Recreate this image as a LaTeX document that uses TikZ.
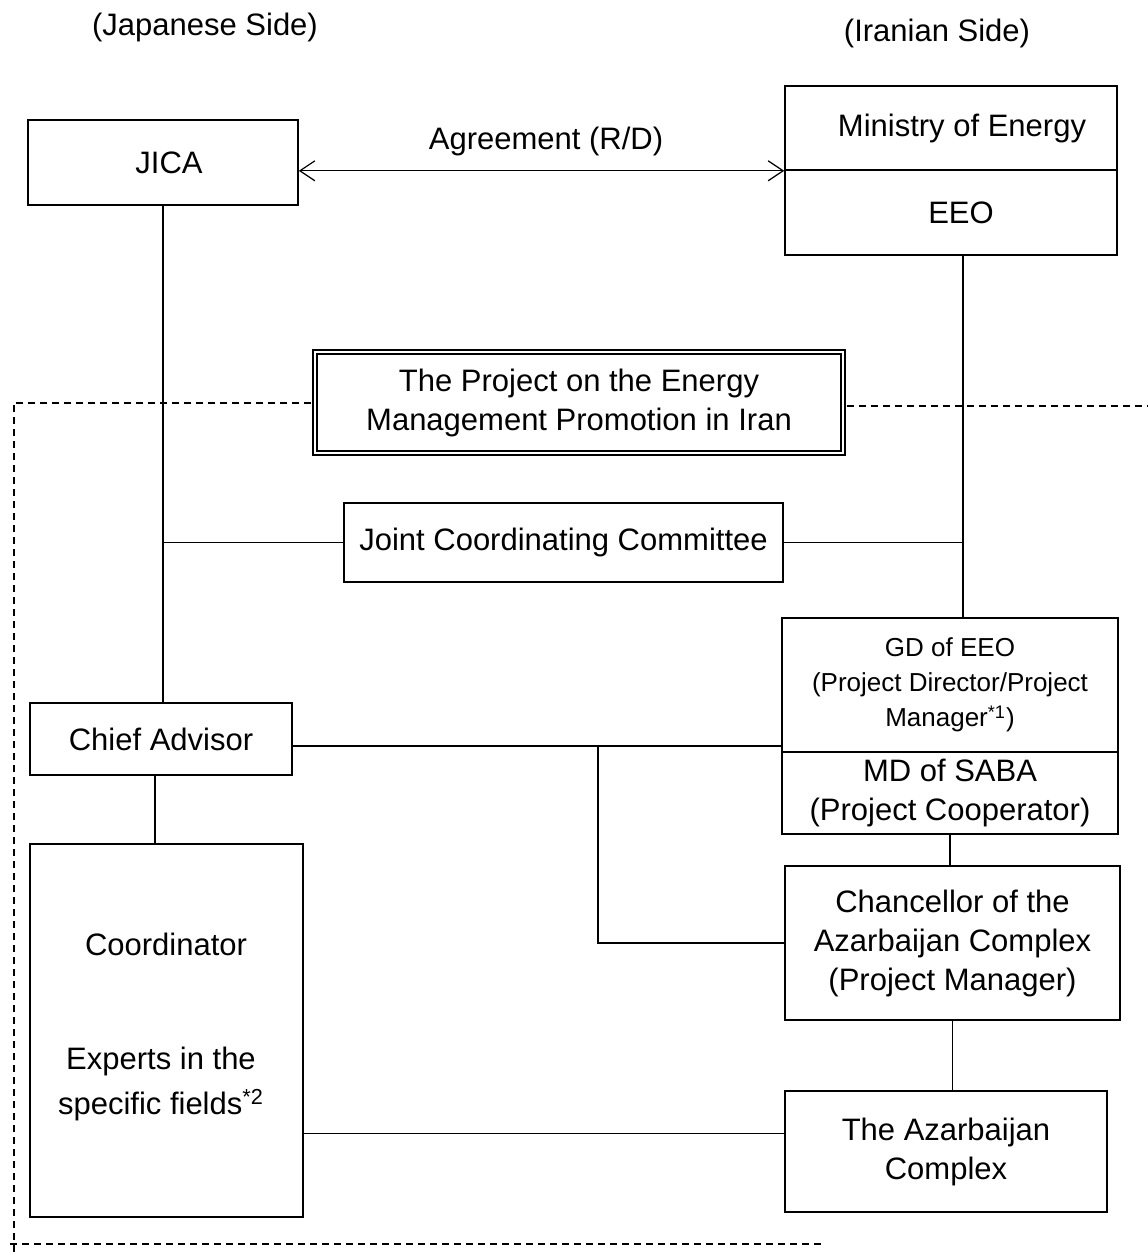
\documentclass[tikz,border=0pt]{standalone}
\usepackage{fontspec}
\setmainfont{Liberation Sans}
\usetikzlibrary{arrows.meta,calc}
\begin{document}
\begin{tikzpicture}[x=0.5pt,y=-0.5pt,
  font=\fontsize{15.5}{19.5}\selectfont,
  line width=0.8pt,
  bx/.style n args={2}{draw, minimum width={#1*0.5pt}, minimum height={#2*0.5pt}, inner sep=0pt, align=center},
  lbl/.style={inner sep=0pt, align=center},
  frame/.style={dash pattern=on 3.5pt off 2.5pt, line width=1pt},
  small/.style={font=\fontsize{13}{17.5}\selectfont},
  tip/.style={{Straight Barb[length=7.5pt,width=10pt]}-{Straight Barb[length=7.5pt,width=10pt]}, line width=0.6pt}]
\useasboundingbox (0,0) rectangle (1147,1252);
% side labels
\node[lbl] (jside) at (205,27) {(Japanese Side)};
\node[lbl] (iside) at (937,33) {(Iranian Side)};
% boxes
\node[bx={270}{85}] (jica) at (163,162.5) {\hspace*{6pt}JICA};
\node[bx={332}{84}] (moe) at (951,128) {\hspace*{11pt}Ministry of Energy};
\node[bx={332}{85}] (eeo) at (951,212.5) {\hspace*{10pt}EEO};
\node[bx={528}{101}, line width=0.7pt, double, double distance=1.4pt] (proj) at (579,402.5) {The Project on the Energy\\Management Promotion in Iran};
\node[bx={439}{79}] (jcc) at (563.5,542.5) {Joint Coordinating Committee};
\node[bx={336}{134}, small] (gd) at (950,685) {GD of EEO\\(Project Director/Project\\Manager\textsuperscript{*1})};
\node[bx={336}{82}] (md) at (950,793) {MD of SABA\\(Project Cooperator)};
\node[bx={262}{72}] (chief) at (161,739) {Chief Advisor};
\node[bx={273}{373}] (coord) at (166.5,1030.5) {};
\node[lbl] (coordt) at (166,944) {Coordinator};
\node[lbl, font=\fontsize{15.5}{22.5}\selectfont] (expt) at (161,1084) {Experts in the\\specific fields\textsuperscript{*2}};
\node[bx={335}{154}] (chanc) at (952.5,943) {Chancellor of the\\Azarbaijan Complex\\(Project Manager)};
\node[bx={322}{121}] (azc) at (946,1151.5) {The Azarbaijan\\Complex};
% agreement arrow
\node[lbl] (agr) at (546,141) {Agreement (R/D)};
\draw[tip] (jica.east |- moe.south west) -- (moe.south west);
% connectors
\draw (jica.south) -- (jica.south |- chief.north);
\coordinate (jl) at (jica.south |- jcc.west);
\draw (jl) -- (jcc.west);
\coordinate (et) at ($(eeo.south)+(12,0)$);
\draw (et) -- (et |- gd.north);
\draw (jcc.east) -- (jcc.east -| et);
\coordinate (ca) at ($(chief.east)+(0,7)$);
\draw (ca) -- (ca -| gd.west);
\coordinate (br) at ($(ca)+(305,0)$);
\draw (br) -- (br |- chanc.west) -- (chanc.west);
\coordinate (cb) at ($(chief.south)+(-6,0)$);
\draw (cb) -- (cb |- coord.north);
\draw (md.south) -- (md.south |- chanc.north);
\draw (chanc.south) -- (chanc.south |- azc.north);
\coordinate (aw) at ($(azc.west)+(0,-18)$);
\draw (coord.east |- aw) -- (aw);
% dashed frame
\coordinate (fl) at (14,402.5);
\coordinate (fb) at (14,1252);
\coordinate (fr) at (1147,405.5);
\coordinate (bl) at (10,1244);
\coordinate (brr) at (822,1244);
\draw[frame] ($(proj.west)+(-3,0)$) -- (fl) -- (fb);
\draw[frame] ($(proj.east)+(3,3)$) -- (fr);
\draw[frame] (bl) -- (brr);
\end{tikzpicture}
\end{document}
